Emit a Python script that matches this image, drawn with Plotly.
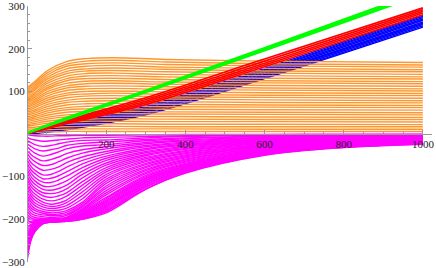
import plotly.graph_objects as go

# ---------------- data ----------------
ORANGE_X = [0, 20, 50, 100, 150, 220, 350, 600, 1000]
ORANGE_Y = [
    [4, 4, 5, 6, 6, 6, 6, 6, 6],
    [7, 8, 10, 11, 12, 12, 12, 11, 11],
    [11, 12, 15, 17, 18, 18, 17, 17, 17],
    [15, 16, 20, 23, 24, 24, 23, 23, 22],
    [18, 21, 25, 28, 30, 30, 29, 29, 28],
    [22, 25, 30, 34, 35, 36, 35, 34, 34],
    [25, 29, 35, 40, 41, 42, 41, 40, 39],
    [29, 33, 39, 45, 47, 48, 47, 46, 45],
    [33, 37, 44, 51, 53, 54, 52, 51, 50],
    [36, 41, 49, 57, 59, 60, 58, 57, 56],
    [40, 45, 54, 62, 65, 66, 64, 63, 62],
    [44, 49, 59, 68, 71, 72, 70, 68, 67],
    [47, 53, 64, 74, 77, 78, 76, 74, 73],
    [51, 57, 69, 79, 83, 84, 82, 80, 78],
    [54, 62, 74, 85, 89, 90, 87, 86, 84],
    [58, 66, 79, 91, 94, 96, 93, 91, 90],
    [62, 70, 84, 96, 100, 101, 99, 97, 95],
    [65, 74, 89, 102, 106, 107, 105, 103, 101],
    [69, 78, 94, 108, 112, 113, 111, 108, 106],
    [73, 82, 99, 113, 118, 119, 117, 114, 112],
    [76, 86, 104, 119, 124, 125, 122, 120, 118],
    [80, 90, 108, 125, 130, 131, 128, 125, 123],
    [83, 94, 113, 130, 136, 137, 134, 131, 129],
    [87, 98, 118, 136, 142, 143, 140, 137, 134],
    [91, 103, 123, 142, 148, 149, 146, 143, 140],
    [94, 107, 128, 147, 153, 155, 152, 148, 146],
    [98, 111, 133, 153, 159, 161, 157, 154, 151],
    [102, 115, 138, 159, 165, 167, 163, 160, 157],
    [105, 119, 143, 164, 171, 173, 169, 165, 162],
    [109, 123, 148, 170, 177, 179, 175, 171, 168],
]

MAGENTA_X = [0, 10, 20, 40, 60, 80, 100, 140, 200, 300, 400, 600, 800, 1000]
MAGENTA_Y = [
    [-1, -3, -4, -5, -5, -4, -4, -3, -3, -2, -1, -1, -0.5, -0.4],
    [-8, -12, -14, -17, -16, -14, -12, -9, -8, -6, -4, -2, -1.5, -1],
    [-15, -20, -25, -29, -27, -23, -19, -15, -14, -9, -6, -3, -2, -1.7],
    [-23, -29, -35, -40, -37, -33, -27, -22, -19, -13, -9, -5, -3, -2.4],
    [-30, -38, -45, -52, -48, -42, -35, -28, -25, -16, -11, -6, -4, -3],
    [-38, -48, -55, -63, -60, -54, -46, -37, -30, -20, -14, -8, -5, -3.7],
    [-45, -57, -65, -74, -72, -65, -57, -45, -35, -23, -16, -9, -6, -4.3],
    [-53, -67, -75, -85, -83, -77, -67, -54, -41, -27, -19, -10, -7, -5],
    [-60, -76, -85, -96, -95, -88, -78, -62, -46, -30, -21, -12, -7, -5.6],
    [-68, -84, -93, -105, -104, -98, -89, -70, -52, -34, -24, -13, -8, -6.3],
    [-75, -92, -102, -113, -114, -108, -99, -79, -57, -37, -26, -14, -9, -6.8],
    [-83, -100, -110, -122, -123, -118, -110, -87, -62, -41, -29, -16, -10, -7.6],
    [-90, -108, -118, -130, -132, -128, -120, -95, -68, -44, -31, -17, -11, -8.1],
    [-98, -116, -126, -138, -140, -137, -129, -103, -73, -48, -34, -18, -12, -8.9],
    [-105, -123, -133, -145, -149, -145, -138, -112, -79, -51, -36, -20, -13, -9.4],
    [-113, -131, -141, -153, -157, -154, -146, -120, -84, -55, -39, -21, -14, -10.2],
    [-120, -138, -148, -160, -165, -162, -155, -128, -89, -58, -41, -22, -14, -10.7],
    [-128, -145, -155, -166, -170, -168, -161, -136, -95, -62, -44, -24, -15, -11.5],
    [-135, -152, -162, -171, -175, -173, -168, -144, -100, -65, -46, -25, -16, -12],
    [-143, -159, -168, -177, -180, -179, -174, -152, -106, -69, -49, -27, -17, -12.8],
    [-150, -166, -175, -182, -185, -184, -180, -160, -111, -72, -51, -28, -18, -13.3],
    [-158, -173, -180, -186, -189, -188, -184, -164, -116, -76, -54, -29, -19, -14],
    [-165, -179, -186, -190, -192, -191, -188, -168, -122, -79, -56, -30, -19, -14.6],
    [-173, -186, -191, -194, -196, -195, -191, -171, -127, -83, -59, -32, -20, -15.4],
    [-180, -192, -196, -198, -199, -198, -195, -175, -133, -86, -61, -33, -21, -16],
    [-188, -197, -200, -201, -201, -200, -197, -177, -138, -90, -64, -35, -22, -16.7],
    [-195, -201, -203, -203, -203, -202, -199, -180, -143, -93, -66, -36, -23, -17.2],
    [-203, -206, -206, -205, -204, -203, -200, -182, -149, -97, -69, -37, -24, -18],
    [-210, -208, -207, -206, -205, -204, -201, -185, -152, -100, -71, -39, -25, -18.5],
    [-218, -212, -209, -206, -205, -204, -201, -186, -155, -103, -73, -40, -25, -19],
    [-225, -215, -211, -207, -205, -204, -202, -188, -158, -105, -75, -40, -26, -19.4],
    [-233, -219, -213, -207, -205, -204, -202, -189, -160, -108, -77, -42, -27, -20],
    [-240, -222, -215, -208, -206, -205, -202, -191, -163, -110, -78, -42, -27, -20.4],
    [-248, -226, -217, -208, -206, -205, -203, -192, -166, -113, -80, -44, -28, -21],
    [-255, -229, -219, -209, -206, -205, -203, -194, -169, -115, -82, -44, -28, -21.3],
    [-263, -233, -221, -209, -206, -205, -203, -195, -171, -118, -84, -45, -29, -21.8],
    [-270, -236, -222, -209, -206, -205, -204, -197, -174, -120, -85, -46, -30, -22.2],
    [-278, -240, -224, -210, -207, -205, -204, -198, -177, -123, -87, -47, -30, -22.8],
    [-285, -243, -226, -210, -207, -206, -204, -199, -180, -125, -89, -48, -31, -23],
    [-293, -247, -228, -211, -207, -206, -205, -200, -182, -128, -91, -49, -31, -23.7],
    [-300, -250, -230, -211, -207, -206, -205, -200, -185, -130, -92, -50, -32, -24],
]

LINE_X = [0, 100, 300, 600, 1000]
BLUE_Y = [
    [0, 22, 65, 154, 279],
    [0, 21, 63, 151, 276],
    [0, 19, 61, 149, 273],
    [0, 18, 58, 146, 270],
    [0, 17, 56, 143, 267],
    [0, 16, 54, 140, 263],
    [0, 14, 52, 138, 260],
    [0, 13, 50, 135, 257],
    [0, 12, 47, 132, 254],
    [0, 10, 45, 130, 251],
]
RED_Y = [
    [0, 32, 85, 176, 296],
    [0, 30, 81, 171, 292],
    [0, 28, 77, 166, 288],
    [0, 26, 73, 162, 284],
    [0, 24, 69, 158, 280],
]
GREEN_Y = [
    [2, 38, 102, 202, 336],
    [2, 36, 100, 199, 332],
    [2, 34, 98, 196, 328],
]

X_TICKS = [200, 400, 600, 800, 1000]
Y_TICKS = [-300, -200, -100, 100, 200, 300]

# ---------------- figure ----------------
fig = go.Figure()


def add_family(xs, rows, color, width=1.0, opacity=1.0):
    for ys in rows:
        fig.add_trace(go.Scatter(
            x=xs, y=ys, mode="lines",
            line=dict(color=color, width=width, shape="spline"),
            opacity=opacity, hoverinfo="skip", showlegend=False,
        ))


add_family(MAGENTA_X, MAGENTA_Y, "rgb(255,0,255)", 1.4)
add_family(LINE_X, BLUE_Y, "rgb(0,0,255)", 1.4)
add_family(ORANGE_X, ORANGE_Y, "rgb(255,150,45)", 1.4)
add_family(LINE_X, RED_Y, "rgb(255,0,0)", 1.7)
add_family(LINE_X, GREEN_Y, "rgb(0,255,0)", 2.0)

tick_font = dict(family="Liberation Serif", size=11, color="#222")

fig.update_layout(
    width=436, height=268,
    margin=dict(l=27, r=4, t=6, b=6),
    paper_bgcolor="white", plot_bgcolor="white",
    showlegend=False,
    xaxis=dict(
        range=[0, 1023], showgrid=False, zeroline=False, automargin=False,
        showline=True, linecolor="#999", linewidth=1,
        anchor="free", position=0.5, side="bottom",
        ticks="inside", ticklen=4, tickcolor="#999",
        tickmode="array", tickvals=X_TICKS,
        ticktext=[str(v) for v in X_TICKS],
        tickfont=tick_font,
        minor=dict(tickmode="linear", tick0=0, dtick=50, ticks="inside",
                   ticklen=2, tickcolor="#999"),
    ),
    yaxis=dict(
        range=[-300.5, 300.5], showgrid=False, zeroline=False, automargin=False,
        showline=True, linecolor="#999", linewidth=1,
        anchor="free", position=0, side="left",
        ticks="inside", ticklen=4, tickcolor="#999",
        tickmode="array", tickvals=Y_TICKS,
        ticktext=[("\u2212" + str(-v)) if v < 0 else str(v) for v in Y_TICKS],
        tickfont=tick_font,
        minor=dict(tickmode="linear", tick0=0, dtick=20, ticks="inside",
                   ticklen=2, tickcolor="#999"),
    ),
)

fig.write_html(
    "out.html",
    config={"displayModeBar": False, "staticPlot": True},
    post_script="document.body.style.margin='0px';document.body.style.overflow='hidden';",
)
